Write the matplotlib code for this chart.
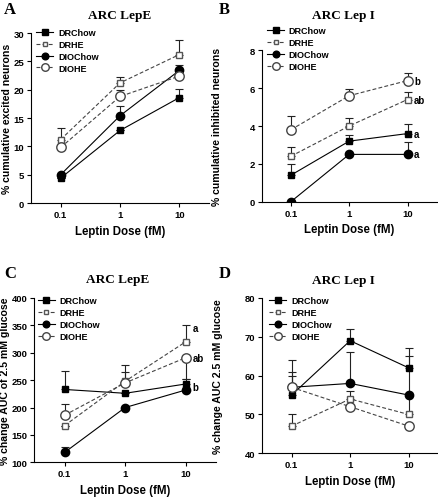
import numpy as np
import matplotlib
matplotlib.use("Agg")
import matplotlib.pyplot as plt

# leptin doses (fM)
doses = [0.1, 1, 10]
dose_labels = ["0.1", "1", "10"]
groups = ["DRChow", "DRHE", "DIOChow", "DIOHE"]

# A: ARC LepE, % cumulative excited neurons
a_drchow = [4.4, 12.8, 18.6]
a_drhe = [11.2, 21.2, 26.2]
a_diochow = [5.0, 15.4, 23.4]
a_diohe = [9.8, 18.8, 22.4]
a_up = [[0, 0, 1.6], [2.1, 1.1, 2.6], [0, 1.8, 1.0], [0, 1.1, 0]]
a_down = [[0, 0, 0], [0, 0, 0], [0, 0, 0], [0, 0, 0]]

# B: ARC Lep I, % cumulative inhibited neurons
b_drchow = [1.4, 3.2, 3.6]
b_drhe = [2.4, 4.0, 5.4]
b_diochow = [0.0, 2.5, 2.5]
b_diohe = [3.8, 5.6, 6.4]
b_up = [[0.6, 0.35, 0.5], [0.5, 0.4, 0.4], [0, 0, 0.63], [0.75, 0.35, 0.4]]
b_down = [[0, 0, 0], [0, 0, 0], [0, 0, 0], [0, 0, 0]]
b_letters = ["a", "ab", "a", "b"]

# C: ARC LepE, % change AUC of 2.5 mM glucose
c_drchow = [233, 226, 243]
c_drhe = [167, 248, 320]
c_diochow = [118, 200, 232]
c_diohe = [186, 245, 291]
c_up = [[34, 0, 10], [0, 17, 30], [10, 0, 0], [20, 32, 0]]
c_down = [[0, 0, 0], [0, 0, 0], [0, 0, 0], [0, 0, 38]]
c_letters = ["b", "a", None, "ab"]

# D: ARC Lep I, % change AUC 2.5 mM glucose
d_drchow = [55, 69, 62]
d_drhe = [47, 54, 50]
d_diochow = [57, 58, 55]
d_diohe = [57, 52, 47]
d_up = [[6, 3, 5], [3, 2, 5], [7, 8, 10], [3, 0, 0]]
d_down = [[0, 0, 0], [0, 0, 0], [0, 0, 0], [0, 0, 0]]

styles = [
    dict(marker="s", ms=5, mfc="black", mec="black", ls="-", color="black"),
    dict(marker="s", ms=4, mfc="white", mec="#555555", ls=(0, (3.5, 2)), color="#444444"),
    dict(marker="o", ms=6, mfc="black", mec="black", ls="-", color="black"),
    dict(marker="o", ms=6.8, mfc="white", mec="#444444", ls=(0, (3.5, 2)), color="#444444"),
]

sans = "Liberation Sans"
serif = "Liberation Serif"

W, H = 439, 502
fig = plt.figure(figsize=(W / 100, H / 100), dpi=100)


def panel(rect, series, up, down, ylim, yticks, title, title_xy, letter, letter_xy,
          ylabel, ylabel_x, leg_anchor, letters=None, letter_ys=None):
    ax = fig.add_axes(rect)
    for vals, u, d in zip(series, up, down):
        ax.errorbar(doses, vals, yerr=[d, u], fmt="none", ecolor="#222222",
                    elinewidth=0.8, capsize=3, capthick=0.8, zorder=2)
    for vals, st, name in zip(series, styles, groups):
        ax.plot(doses, vals, lw=0.8, label=name, zorder=3, **st)
    ax.set_xscale("log")
    ax.set_xlim(10 ** -1.5, 10 ** 1.5)
    ax.set_xticks(doses)
    ax.set_xticklabels(dose_labels)
    ax.minorticks_off()
    ax.set_ylim(*ylim)
    ax.set_yticks(yticks)
    for s in ["top", "right"]:
        ax.spines[s].set_visible(False)
    for s in ["left", "bottom"]:
        ax.spines[s].set_linewidth(0.8)
    ax.tick_params(direction="out", length=3, width=0.8, pad=2)
    for lab in ax.get_xticklabels() + ax.get_yticklabels():
        lab.set_fontfamily(sans)
        lab.set_fontweight("bold")
        lab.set_fontsize(6.8)
    ax.set_xlabel("Leptin Dose (fM)", fontfamily=sans, fontweight="bold",
                  fontsize=8.3, labelpad=4)
    ax.set_ylabel(ylabel, fontfamily=sans, fontweight="bold", fontsize=7.6)
    ax.yaxis.set_label_coords(ylabel_x, 0.5)
    fig.text(title_xy[0] / W, 1 - title_xy[1] / H, title, fontfamily=serif,
             fontweight="bold", fontsize=9.5, ha="center", va="center")
    fig.text(letter_xy[0] / W, 1 - letter_xy[1] / H, letter, fontfamily=serif,
             fontweight="bold", fontsize=12, ha="left", va="top")
    ax.legend(loc="upper left", bbox_to_anchor=leg_anchor, frameon=False,
              borderaxespad=0, borderpad=0, handlelength=1.9,
              handletextpad=0.5, labelspacing=0.32, markerscale=0.8,
              prop=dict(family=sans, weight="bold", size=6.5))
    if letters is not None:
        for txt, yv in zip(letters, letter_ys):
            if txt:
                ax.text(13, yv, txt, fontfamily=sans, fontweight="bold",
                        fontsize=7, ha="left", va="center")
    return ax


panel([0.0706, 0.5936, 0.4055, 0.3386],
      [a_drchow, a_drhe, a_diochow, a_diohe], a_up, a_down,
      (0, 30), range(0, 31, 5), "ARC LepE", (120, 16), "A", (4, 2),
      "% cumulative excited neurons", -0.105, (0.03, 1.03))

panel([0.5961, 0.5962, 0.3986, 0.3016],
      [b_drchow, b_drhe, b_diochow, b_diohe], b_up, b_down,
      (0, 8), range(0, 9, 2), "ARC Lep I", (343, 16), "B", (219, 2),
      "% cumulative inhibited neurons", -0.225, (0.03, 1.16),
      letters=b_letters, letter_ys=[b_drchow[2], b_drhe[2], b_diochow[2], b_diohe[2]])

panel([0.0781, 0.0771, 0.4139, 0.3273],
      [c_drchow, c_drhe, c_diochow, c_diohe], c_up, c_down,
      (100, 400), range(100, 401, 50), "ARC LepE", (118, 280), "C", (4, 266),
      "% change AUC of 2.5 mM glucose", -0.135, (0.02, 1.01),
      letters=c_letters, letter_ys=[237, 345, None, 291])

panel([0.5975, 0.0950, 0.4002, 0.3094],
      [d_drchow, d_drhe, d_diochow, d_diohe], d_up, d_down,
      (40, 80), range(40, 81, 10), "ARC Lep I", (343, 281), "D", (219, 266),
      "% change AUC 2.5 mM glucose", -0.225, (0.04, 1.01))

fig.savefig("out.png", dpi=100)
